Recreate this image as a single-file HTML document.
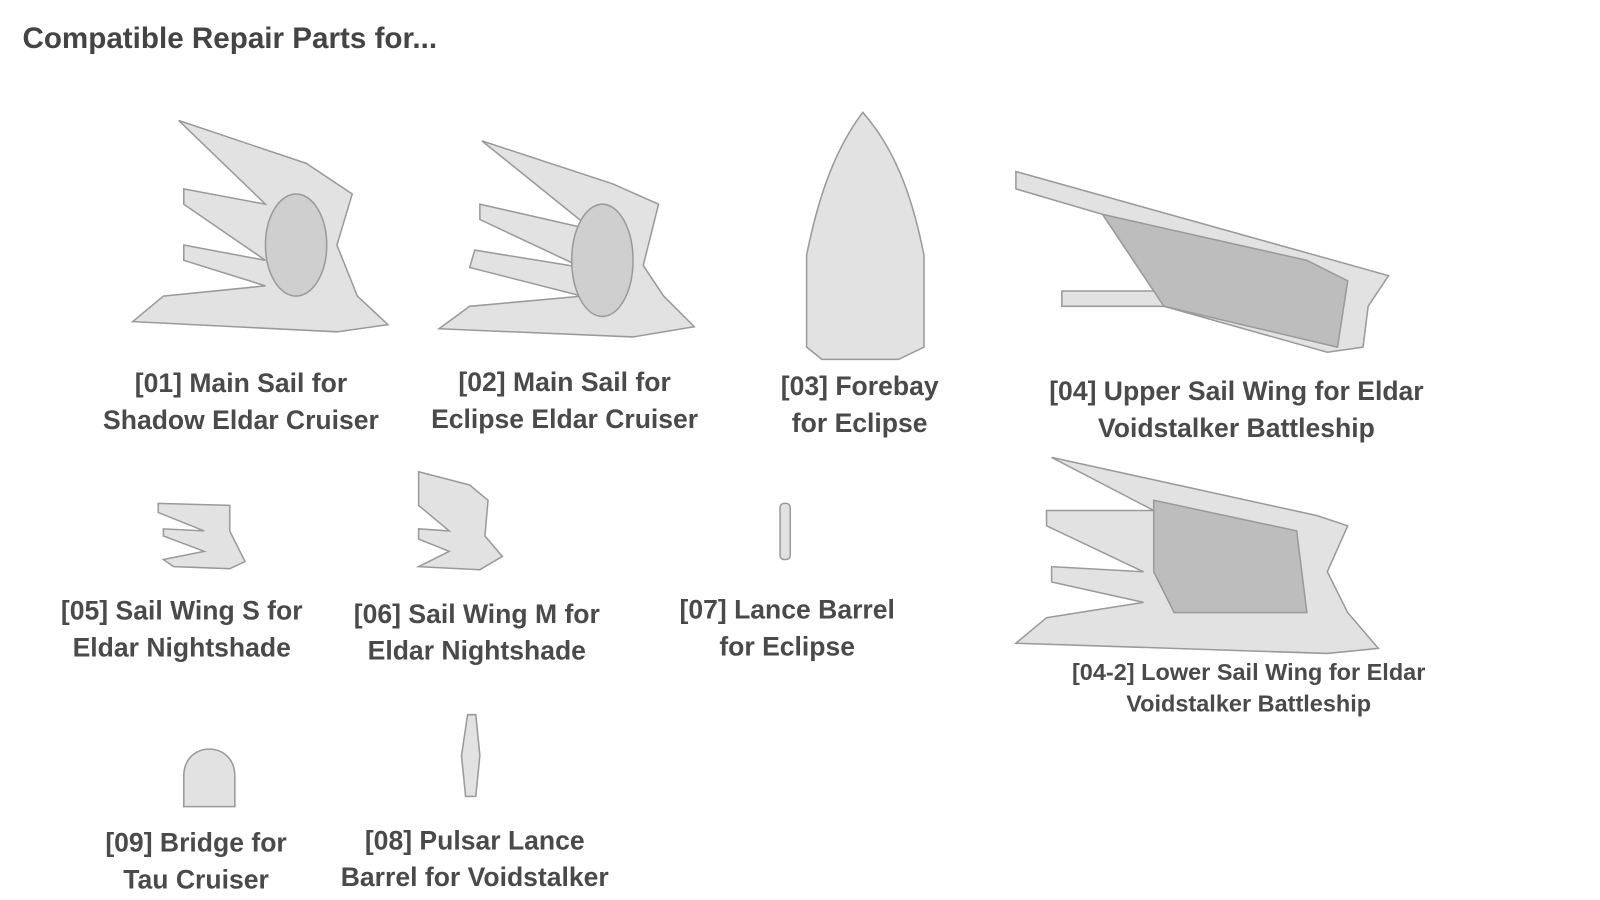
<!DOCTYPE html>
<html><head><meta charset="utf-8"><style>
html,body{margin:0;padding:0;background:#fff;width:1600px;height:900px;overflow:hidden;position:relative;font-family:"Liberation Sans",sans-serif;}
#w{position:absolute;left:0;top:0;width:1600px;height:900px;transform:scale(1.021);transform-origin:0 0;}
.t{position:absolute;color:#4a4a4a;font-weight:bold;text-align:center;font-size:26px;line-height:36px;white-space:nowrap;transform:translateX(-50%);}
h1{position:absolute;left:22px;top:22px;margin:0;font-size:29px;color:#444;font-weight:bold;}
svg{position:absolute;left:0;top:0}
</style></head><body><div id="w">
<h1>Compatible Repair Parts for...</h1>
<svg width="1600" height="900">
<g fill="#e2e2e2" stroke="#9a9a9a" stroke-width="1.5">
<polygon points="175,118 300,160 345,190 330,240 350,290 380,318 330,325 130,315 160,290 260,280 180,255 180,240 260,255 180,200 180,185 260,200"/>
<ellipse cx="290" cy="240" rx="30" ry="50" fill="#cfcfcf"/>
<polygon points="472,138 600,180 645,200 630,260 650,290 680,320 620,330 430,322 460,300 570,290 460,262 465,245 570,262 470,215 470,200 580,225"/>
<ellipse cx="590" cy="255" rx="30" ry="55" fill="#cfcfcf"/>
<path d="M845,110 C880,150 895,200 905,250 L905,340 L880,352 L805,352 L790,340 L790,250 C800,200 815,150 845,110Z"/>
<polygon points="995,168 1360,270 1340,300 1335,340 1300,345 1140,300 1040,300 1040,285 1130,285 1080,210 995,185"/>
<path d="M1080,210 L1280,255 L1320,275 L1310,340 L1140,300 Z" fill="#bdbdbd"/>
<polygon points="1030,448 1290,505 1320,515 1300,560 1320,600 1350,635 1300,640 995,630 1025,605 1120,590 1030,570 1030,555 1120,560 1025,515 1025,500 1130,500"/>
<path d="M1130,490 L1270,520 L1280,600 L1150,600 L1130,560 Z" fill="#bdbdbd"/>
<polygon points="155,493 225,495 225,520 240,550 225,557 170,555 160,548 200,540 160,525 160,518 200,520 155,502"/>
<polygon points="410,462 460,475 478,490 475,525 492,545 470,558 410,555 440,540 410,528 410,518 440,520 410,495"/>
<rect x="764" y="493" width="10" height="55" rx="4"/>
<path d="M458,700 L466,700 L470,740 L466,780 L456,780 L452,740Z"/>
<path d="M180,760 C180,725 230,725 230,760 L230,790 L180,790Z"/>
</g>
</svg>
<div class="t" style="left:236px;top:357px">[01] Main Sail for<br>Shadow Eldar Cruiser</div>
<div class="t" style="left:553px;top:356px">[02] Main Sail for<br>Eclipse Eldar Cruiser</div>
<div class="t" style="left:842px;top:360px">[03] Forebay<br>for Eclipse</div>
<div class="t" style="left:1211px;top:365px">[04] Upper Sail Wing for Eldar<br>Voidstalker Battleship</div>
<div class="t" style="left:178px;top:580px">[05] Sail Wing S for<br>Eldar Nightshade</div>
<div class="t" style="left:467px;top:583px">[06] Sail Wing M for<br>Eldar Nightshade</div>
<div class="t" style="left:771px;top:579px">[07] Lance Barrel<br>for Eclipse</div>
<div class="t" style="left:1223px;top:643px;font-size:23px;line-height:31px">[04-2] Lower Sail Wing for Eldar<br>Voidstalker Battleship</div>
<div class="t" style="left:192px;top:807px">[09] Bridge for<br>Tau Cruiser</div>
<div class="t" style="left:465px;top:805px">[08] Pulsar Lance<br>Barrel for Voidstalker</div>
</div></body></html>
